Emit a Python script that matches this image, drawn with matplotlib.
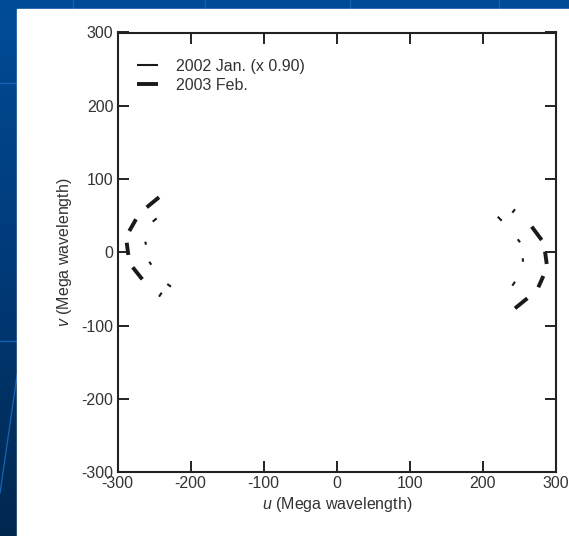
'''
uv coverage plot on a slide background
'''
import numpy as np
import matplotlib
matplotlib.use('Agg')
import matplotlib.pyplot as plt

# segments: (u0, v0, u1, v1) in Mega wavelength
jan2002 = [(-251.8, 41.9, -246.4, 46.5),
           (-262.0, 14.6, -261.0, 10.5),
           (-256.5, -12.7, -253.8, -16.8),
           (-231.9, -43.1, -226.8, -46.8),
           (-243.2, -60.4, -239.5, -55.0),
           (220.3, 48.7, 225.7, 43.2),
           (240.2, 54.2, 243.9, 58.8),
           (247.6, 17.9, 250.8, 13.8),
           (254.5, -8.0, 254.9, -12.7),
           (240.2, -45.4, 243.9, -40.0)]
feb2003 = [(-260.0, 61.5, -243.2, 75.2),
           (-283.8, 29.2, -274.7, 45.2),
           (-287.4, 13.2, -285.2, -3.5),
           (-279.2, -20.3, -266.1, -36.7),
           (266.8, 35.1, 280.4, 16.9),
           (285.0, 1.0, 287.3, -15.8),
           (282.7, -32.2, 275.8, -47.6),
           (260.8, -62.6, 243.9, -76.3)]
labels = ['2002 Jan. (x 0.90)', '2003 Feb.']
ticks = [-300, -200, -100, 0, 100, 200, 300]

plt.rcParams['font.family'] = ['Liberation Sans', 'DejaVu Sans']
plt.rcParams['mathtext.fontset'] = 'custom'
plt.rcParams['mathtext.rm'] = 'Liberation Sans'
plt.rcParams['mathtext.it'] = 'Liberation Sans:italic'
plt.rcParams['axes.unicode_minus'] = False

fig = plt.figure(figsize=(5.69, 5.36), dpi=100)

# slide background: blue gradient with a few faint template lines
bg = fig.add_axes([0, 0, 1, 1])
grad = np.linspace(0, 1, 256).reshape(-1, 1)
cmap = matplotlib.colors.LinearSegmentedColormap.from_list(
    'slide', ['#004c98', '#003a78', '#00284f'])
bg.imshow(grad, aspect='auto', cmap=cmap, extent=[0, 1, 0, 1], origin='upper')
for xl in [0.128, 0.36, 0.615, 0.877]:
    bg.plot([xl, xl], [0.98, 1.0], color='#1560b0', lw=1.0)
for yl in [0.845, 0.364]:
    bg.plot([0, 0.03], [yl, yl], color='#1560b0', lw=1.0)
bg.plot([0.0, 0.03], [0.08, 0.30], color='#1560b0', lw=1.0)
bg.add_patch(plt.Rectangle((16.7 / 569, 0), 1, (536 - 9) / 536.,
                           color='white', zorder=5))
bg.set_xlim(0, 1)
bg.set_ylim(0, 1)
bg.axis('off')

ax = fig.add_axes([117.5 / 569, 63.7 / 536, 438.5 / 569, 439.8 / 536])

for i, (u0, v0, u1, v1) in enumerate(jan2002):
    ax.plot([u0, u1], [v0, v1], color='#1a1a1a', lw=1.5,
            solid_capstyle='butt', label=labels[0] if i == 0 else None)
for i, (u0, v0, u1, v1) in enumerate(feb2003):
    ax.plot([u0, u1], [v0, v1], color='#1a1a1a', lw=2.8,
            solid_capstyle='butt', label=labels[1] if i == 0 else None)

ax.set_xlim(-300, 300)
ax.set_ylim(-300, 300)
ax.set_xticks(ticks)
ax.set_yticks(ticks)
ax.tick_params(direction='in', length=8, width=1.4, top=True, right=True,
               labelsize=11.5, labelcolor='#333333', color='#222222')
ax.tick_params(axis='x', pad=2.5)
ax.tick_params(axis='y', pad=3)
for sp in ax.spines.values():
    sp.set_linewidth(1.5)
    sp.set_color('#222222')

ax.set_xlabel(r'$\it{u}$ (Mega wavelength)', fontsize=11.5, color='#333333',
              labelpad=3)
ax.set_ylabel(r'$\it{v}$ (Mega wavelength)', fontsize=11.5, color='#333333',
              labelpad=5)

leg = ax.legend(loc='upper left', bbox_to_anchor=(0.044, 0.94),
                frameon=False, borderpad=0, borderaxespad=0,
                handlelength=1.35, handletextpad=1.1, labelspacing=0.25,
                fontsize=11.5)
for t in leg.get_texts():
    t.set_color('#333333')

fig.savefig('out.png', dpi=100)
